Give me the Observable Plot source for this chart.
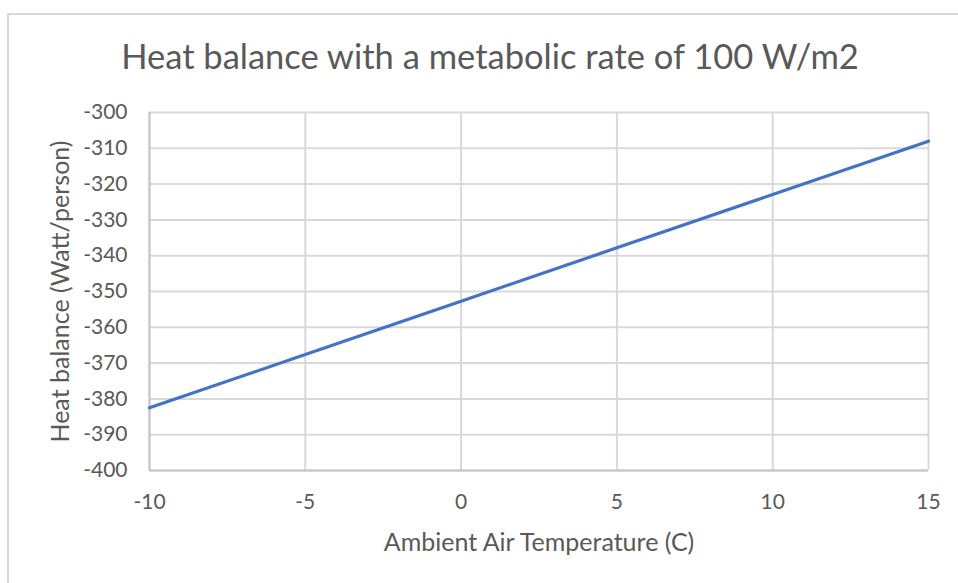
<!DOCTYPE html>
<html>
<head>
<meta charset="utf-8">
<script src="https://cdn.jsdelivr.net/npm/d3@7"></script>
<script src="https://cdn.jsdelivr.net/npm/@observablehq/plot@0.6"></script>
<style>
  html, body { margin: 0; padding: 0; background: #fff; }
  #wrap { position: relative; width: 958px; height: 583px; overflow: hidden; }
  #border { position: absolute; left: 7px; top: 13px; width: 1000px; height: 1000px; border: 2px solid #d9d9d9; box-sizing: border-box; }
  #title { position: absolute; left: 0; top: 39px; width: 980px; text-align: center; font-family: Lato, sans-serif; font-size: 34.5px; line-height: 34px; color: #595959; white-space: nowrap; }
  #chart { position: absolute; left: 0; top: 0; }
</style>
</head>
<body>
<div id="wrap">
  <div id="border"></div>
  <div id="chart"></div>
  <div id="title">Heat balance with a metabolic rate of 100 W/m2</div>
</div>
<script>
const temperature = [-10, -5, 0, 5, 10, 15];
const heatBalance = [-382.5, -367.6, -352.7, -337.8, -322.9, -308.0];
const xTicks = [-10, -5, 0, 5, 10, 15];
const yTicks = [-400, -390, -380, -370, -360, -350, -340, -330, -320, -310, -300];
const xLabel = "Ambient Air Temperature (C)";
const yLabel = "Heat balance (Watt/person)";

const data = temperature.map((t, i) => ({t, h: heatBalance[i]}));

const chart = Plot.plot({
  width: 958,
  height: 583,
  marginLeft: 149,
  marginRight: 30,
  marginTop: 112,
  marginBottom: 113,
  style: { fontFamily: "Lato, sans-serif", fontSize: "21px", color: "#595959", background: "transparent" },
  x: { domain: [-10, 15] },
  y: { domain: [-400, -300] },
  marks: [
    Plot.gridX(xTicks, { stroke: "#d9d9d9", strokeOpacity: 1, strokeWidth: 2 }),
    Plot.gridY(yTicks, { stroke: "#d9d9d9", strokeOpacity: 1, strokeWidth: 2 }),
    Plot.ruleX([-10], { stroke: "#c6c6c6", strokeWidth: 2 }),
    Plot.ruleY([-400], { stroke: "#c6c6c6", strokeWidth: 2 }),
    Plot.line(data, { x: "t", y: "h", stroke: "#4472c4", strokeWidth: 3.2 }),
    Plot.axisX(xTicks, { tickSize: 0, tickPadding: 24, tickFormat: d => String(d), label: null, fontSize: 21, fill: "#595959" }),
    Plot.axisY(yTicks, { tickSize: 0, tickPadding: 22, tickFormat: d => String(d), label: null, fontSize: 21, fill: "#595959" }),
    Plot.text([xLabel], { text: d => d, frameAnchor: "bottom", lineAnchor: "bottom", dy: 80, fontSize: 25, fill: "#595959" }),
    Plot.text([yLabel], { text: d => d, frameAnchor: "left", textAnchor: "middle", lineAnchor: "middle", rotate: -90, dx: -89, fontSize: 25, fill: "#595959" })
  ]
});
document.getElementById("chart").appendChild(chart);
</script>
</body>
</html>
